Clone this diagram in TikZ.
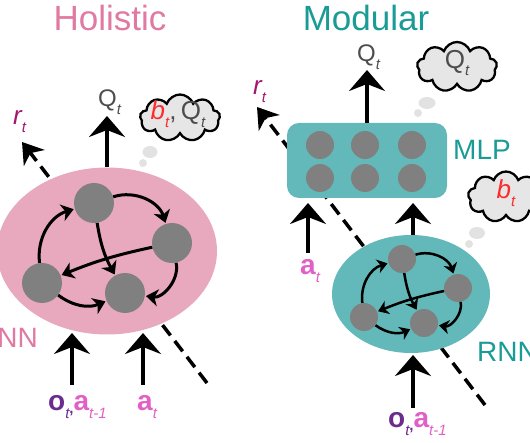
\documentclass[tikz,border=0pt]{standalone}
\usepackage{fontspec}
\setmainfont{Liberation Sans}
\usetikzlibrary{arrows.meta,shapes.geometric,shapes.symbols}

\definecolor{holpink}{HTML}{E07AA3}
\definecolor{holfill}{HTML}{E8A9BE}
\definecolor{modteal}{HTML}{1A9B96}
\definecolor{modfill}{HTML}{63B9B9}
\definecolor{nodegray}{HTML}{808080}
\definecolor{qgray}{HTML}{4D4D4D}
\definecolor{rmag}{HTML}{A3166F}
\definecolor{opurple}{HTML}{6A2C8F}
\definecolor{apink}{HTML}{E060C6}
\definecolor{bred}{HTML}{FF2A2A}
\definecolor{cloudgray}{HTML}{E6E6E6}
\definecolor{bubblegray}{HTML}{E2E2E2}

\newcommand\lowsub[1]{\raisebox{-8pt}{\fontsize{15pt}{15pt}\selectfont\mdseries\itshape #1}}

\tikzset{
  title/.style={inner sep=0pt, font=\fontsize{35pt}{35pt}\selectfont},
  lbl/.style={inner sep=0pt, anchor=base west},
  unit/.style={circle, fill=nodegray, inner sep=0pt, minimum size=40pt},
  smallunit/.style={unit, minimum size=28pt},
  recur/.style={-{Stealth[length=12pt,width=17pt,inset=3.5pt]}, line width=3pt, shorten >=1pt},
  smallrecur/.style={-{Stealth[length=10pt,width=14pt,inset=3pt]}, line width=2.5pt, shorten >=1pt},
  bigarrow/.style={-{Stealth[length=21pt,width=36pt,inset=7pt]}, line width=4pt},
  dasharrow/.style={-{Stealth[length=20pt,width=26pt,inset=6pt]}, line width=3.5pt, dash pattern=on 13pt off 7pt},
  thought/.style={cloud, cloud puffs=9, cloud puff arc=140, draw, line width=2.3pt, fill=cloudgray, inner sep=0pt},
  bubble/.style={ellipse, fill=bubblegray, inner sep=0pt}
}

\begin{document}
\begin{tikzpicture}[x=1pt,y=-1pt]
  \useasboundingbox (0,0) rectangle (530,443);

  \node[title, text=holpink] (holtitle) at (110,18) {Holistic};
  \node[title, text=modteal] (modtitle) at (366,18) {Modular};

  % holistic network
  \coordinate (hrbase) at (207,383);
  \coordinate (hrtip) at (22,142);
  \draw[dasharrow] (hrbase) -- (hrtip);
  \node[ellipse, fill=holfill, inner sep=0pt, minimum width=220pt, minimum height=167pt] (hrnn) at (107,251) {};
  \draw
    (94,203) node[unit] (hA){}
    (172,243) node[unit] (hB){}
    (42,283) node[unit] (hC){}
    (125,293) node[unit] (hD){};
  \begin{scope}[recur]
    \draw (hA) to[bend left=45] (hB);
    \draw (hC) to[bend left=40] (hA);
    \draw (hA) to[bend right=10] (hD);
    \draw (hB) to[bend right=5] (hC);
    \draw (hB) to[bend left=55] (hD);
    \draw (hC) to[bend right=30] (hD);
  \end{scope}
  \node[lbl, anchor=base east, text=holpink, font=\fontsize{28pt}{28pt}\selectfont] (hname) at (38,348) {RNN};

  \coordinate (hqtip) at (107,116);
  \draw[bigarrow] (hrnn.north) -- (hqtip);
  \node[lbl, text=qgray, font=\fontsize{24pt}{24pt}\selectfont] (hq) at (98,107) {Q\lowsub{t}};
  \node[lbl, text=rmag, font=\fontsize{26pt}{26pt}\selectfont\itshape] (hr) at (13,125) {r\lowsub{t}};

  \coordinate (hin1) at (72,385);
  \coordinate (hin1tip) at (72,333);
  \coordinate (hin2) at (143,385);
  \coordinate (hin2tip) at (143,333);
  \draw[bigarrow] (hin1) -- (hin1tip);
  \draw[bigarrow] (hin2) -- (hin2tip);
  \node[lbl, font=\fontsize{28pt}{28pt}\selectfont\bfseries] (hobs) at (48,410)
    {\textcolor{opurple}{o\lowsub{t}\raisebox{-3pt}{\fontsize{15pt}{15pt}\selectfont,}}\textcolor{apink}{a\lowsub{t-1}}};
  \node[lbl, text=apink, font=\fontsize{28pt}{28pt}\selectfont\bfseries] (hact) at (137,410) {a\lowsub{t}};

  \node[thought, minimum width=80pt, minimum height=47pt] (hthink) at (180,118) {};
  \node[inner sep=0pt, font=\fontsize{26pt}{26pt}\selectfont] (hthinktext) at (178,114)
    {\textcolor{bred}{\itshape b\lowsub{t}}\textcolor{qgray}{,\,Q\lowsub{t}}};
  \node[bubble, minimum width=15pt, minimum height=12pt] (hbub1) at (150,152) {};
  \node[bubble, minimum size=8pt] (hbub2) at (143,163) {};

  % modular network
  \coordinate (mrbase) at (485,405);
  \coordinate (mrtip) at (257,107);
  \draw[dasharrow] (mrbase) -- (mrtip);
  \node[rectangle, rounded corners=12pt, fill=modfill, minimum width=160pt, minimum height=75pt] (mlp) at (367,160.5) {};
  \foreach \col/\x in {1/320,2/365,3/412}
    \foreach \row/\y in {1/145,2/178}
      \node[smallunit] (m\row\col) at (\x,\y) {};
  \node[lbl, text=modteal, font=\fontsize{28pt}{28pt}\selectfont] (mlpname) at (453,160) {MLP};

  \node[ellipse, fill=modfill, inner sep=0pt, minimum width=158pt, minimum height=118pt] (mrnn) at (411,294) {};
  \draw
    (402,259) node[smallunit] (mA){}
    (458,288) node[smallunit] (mB){}
    (364,317) node[smallunit] (mC){}
    (424,323) node[smallunit] (mD){};
  \begin{scope}[smallrecur]
    \draw (mA) to[bend left=45] (mB);
    \draw (mC) to[bend left=40] (mA);
    \draw (mA) to[bend right=10] (mD);
    \draw (mB) to[bend right=5] (mC);
    \draw (mB) to[bend left=55] (mD);
    \draw (mC) to[bend right=30] (mD);
  \end{scope}
  \node[lbl, text=modteal, font=\fontsize{28pt}{28pt}\selectfont] (mname) at (477,362) {RNN};

  \coordinate (mqtip) at (367,70);
  \draw[bigarrow] (mlp.north) -- (mqtip);
  \node[lbl, text=qgray, font=\fontsize{24pt}{24pt}\selectfont] (mq) at (357,62) {Q\lowsub{t}};
  \node[lbl, text=rmag, font=\fontsize{26pt}{26pt}\selectfont\itshape] (mr) at (253,95) {r\lowsub{t}};

  \coordinate (min1) at (308,253);
  \coordinate (min1tip) at (308,203);
  \draw[bigarrow] (min1) -- (min1tip);
  \node[lbl, text=apink, font=\fontsize{28pt}{28pt}\selectfont\bfseries] (mact) at (300,275) {a\lowsub{t}};
  \coordinate (mhidtip) at (413,203);
  \draw[bigarrow] (mrnn.north -| mhidtip) -- (mhidtip);
  \coordinate (min2) at (413,408);
  \coordinate (min2tip) at (413,355);
  \draw[bigarrow] (min2) -- (min2tip);
  \node[lbl, font=\fontsize{28pt}{28pt}\selectfont\bfseries] (mobs) at (388,427)
    {\textcolor{opurple}{o\lowsub{t}\raisebox{-3pt}{\fontsize{15pt}{15pt}\selectfont,}}\textcolor{apink}{a\lowsub{t-1}}};

  \node[thought, minimum width=80pt, minimum height=50pt] (mqthink) at (457,67) {};
  \node[inner sep=0pt, text=qgray, font=\fontsize{26pt}{26pt}\selectfont] (mqthinktext) at (457,63) {Q\lowsub{t}};
  \node[bubble, minimum width=17pt, minimum height=12pt] (mqbub1) at (427,103) {};
  \node[bubble, minimum size=8pt] (mqbub2) at (418,113) {};

  \node[thought, minimum width=76pt, minimum height=51pt] (mbthink) at (506,197) {};
  \node[inner sep=0pt, text=bred, font=\fontsize{26pt}{26pt}\selectfont\itshape] (mbthinktext) at (506,193) {b\lowsub{t}};
  \node[bubble, minimum width=16pt, minimum height=12pt] (mbbub1) at (477,233) {};
  \node[bubble, minimum size=8pt] (mbbub2) at (469,244) {};
\end{tikzpicture}
\end{document}
